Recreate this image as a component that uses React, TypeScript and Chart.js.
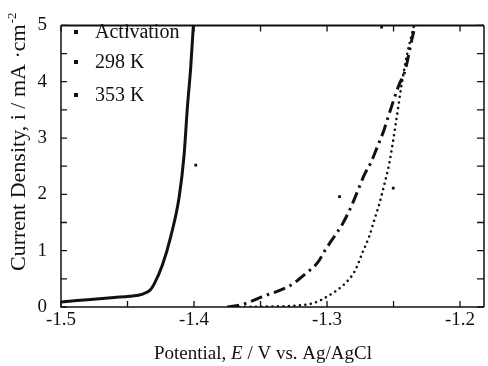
import React, { useEffect, useRef } from "react";
import { Chart, registerables } from "chart.js";
Chart.register(...registerables);

const activationE = [-1.5, -1.48, -1.46, -1.4485, -1.4386, -1.433, -1.4299, -1.4237, -1.4174, -1.4112, -1.4075, -1.405, -1.4025, -1.4005];
const activationI = [0.09, 0.13, 0.17, 0.19, 0.23, 0.3, 0.41, 0.75, 1.26, 1.95, 2.69, 3.54, 4.25, 5.0];

const k298E = [-1.375, -1.363, -1.349, -1.3278, -1.3167, -1.3067, -1.3017, -1.2943, -1.288, -1.2819, -1.278, -1.2719, -1.2669, -1.2624, -1.2575, -1.2537, -1.2463, -1.2413, -1.2363, -1.2338];
const k298I = [0.0, 0.05, 0.18, 0.38, 0.58, 0.8, 1.0, 1.26, 1.49, 1.78, 2.0, 2.35, 2.57, 2.83, 3.12, 3.4, 3.92, 4.2, 4.74, 5.0];

const k353E = [-1.37, -1.34, -1.32, -1.31, -1.3017, -1.2868, -1.2793, -1.2731, -1.2682, -1.2644, -1.2607, -1.257, -1.2532, -1.2483, -1.244, -1.2396, -1.2346];
const k353I = [0.0, 0.01, 0.03, 0.07, 0.16, 0.41, 0.63, 0.98, 1.26, 1.55, 1.83, 2.17, 2.55, 3.26, 3.94, 4.51, 5.0];

const specksE = [-1.3987, -1.259, -1.2906, -1.2502];
const specksI = [2.52, 4.97, 1.96, 2.11];

const seriesLabels = ["Activation", "298 K", "353 K"];
const xLabelValues = [-1.5, -1.4, -1.3, -1.2];
const yLabelValues = [0, 1, 2, 3, 4, 5];
const xMinorTicks = [-1.5, -1.45, -1.4, -1.35, -1.3, -1.25, -1.2];
const yTickValues = [0, 0.5, 1, 1.5, 2, 2.5, 3, 3.5, 4, 4.5, 5];

const SERIF = "'Liberation Serif', 'DejaVu Serif', serif";
const INK = "#111";

const toPts = (xs: number[], ys: number[]) => xs.map((x, i) => ({ x, y: ys[i] }));

const framePlugin = {
  id: "frameTicks",
  afterDatasetsDraw(chart: any) {
    const ctx = chart.ctx;
    const { left, right, top, bottom } = chart.chartArea;
    const xs = chart.scales.x;
    const ys = chart.scales.y;
    ctx.save();
    ctx.strokeStyle = INK;
    // frame
    ctx.lineWidth = 2;
    ctx.beginPath();
    ctx.moveTo(left, top);
    ctx.lineTo(right, top);
    ctx.stroke();
    ctx.lineWidth = 1.5;
    ctx.beginPath();
    ctx.moveTo(left, top);
    ctx.lineTo(left, bottom);
    ctx.lineTo(right, bottom);
    ctx.moveTo(right, top);
    ctx.lineTo(right, bottom);
    ctx.stroke();
    // inward ticks
    ctx.lineWidth = 1.3;
    ctx.beginPath();
    xMinorTicks.forEach((v) => {
      const px = xs.getPixelForValue(v);
      ctx.moveTo(px, bottom);
      ctx.lineTo(px, bottom - 6);
      ctx.moveTo(px, top);
      ctx.lineTo(px, top + 6);
    });
    yTickValues.forEach((v) => {
      const py = ys.getPixelForValue(v);
      ctx.moveTo(left, py);
      ctx.lineTo(left + 6, py);
      ctx.moveTo(right, py);
      ctx.lineTo(right - 7, py);
    });
    ctx.stroke();

    // legend
    ctx.fillStyle = INK;
    ctx.font = `20px ${SERIF}`;
    ctx.textBaseline = "middle";
    ctx.textAlign = "left";
    const rowY = [32, 62, 95];
    seriesLabels.forEach((lab, i) => {
      ctx.fillRect(left + 13, rowY[i] - 2, 4, 4);
      ctx.fillText(lab, left + 34, rowY[i] + 1);
    });

    // x title with italic E
    const parts = [
      { t: "Potential, ", f: `19px ${SERIF}` },
      { t: "E", f: `italic 19px ${SERIF}` },
      { t: " / V vs. Ag/AgCl", f: `19px ${SERIF}` },
    ];
    let total = 0;
    parts.forEach((p) => {
      ctx.font = p.f;
      total += ctx.measureText(p.t).width;
    });
    let cx = 263 - total / 2;
    ctx.textBaseline = "alphabetic";
    parts.forEach((p) => {
      ctx.font = p.f;
      ctx.fillText(p.t, cx, 359);
      cx += ctx.measureText(p.t).width;
    });

    // y title rotated
    ctx.save();
    ctx.translate(25, 271);
    ctx.rotate(-Math.PI / 2);
    ctx.font = `22px ${SERIF}`;
    const main = "Current Density, i / mA \u00B7cm";
    ctx.fillText(main, 0, 0);
    const mw = ctx.measureText(main).width;
    ctx.font = `13px ${SERIF}`;
    ctx.fillText("-2", mw + 1, -9);
    ctx.restore();
    ctx.restore();
  },
};

export default function App() {
  const ref = useRef<HTMLCanvasElement | null>(null);
  useEffect(() => {
    document.body.style.margin = "0";
    const canvas = ref.current;
    if (!canvas) return;
    const chart = new Chart(canvas, {
      type: "scatter",
      data: {
        datasets: [
          {
            label: seriesLabels[0],
            data: toPts(activationE, activationI),
            showLine: true,
            borderColor: INK,
            borderWidth: 3,
            pointRadius: 0,
            cubicInterpolationMode: "monotone",
          },
          {
            label: seriesLabels[1],
            data: toPts(k298E, k298I),
            showLine: true,
            borderColor: INK,
            borderWidth: 3,
            borderDash: [12, 5, 2.5, 5],
            pointRadius: 0,
            cubicInterpolationMode: "monotone",
          },
          {
            label: seriesLabels[2],
            data: toPts(k353E, k353I),
            showLine: true,
            borderColor: INK,
            borderWidth: 2.6,
            borderCapStyle: "round",
            borderDash: [0, 5.5],
            pointRadius: 0,
            cubicInterpolationMode: "monotone",
          },
          {
            label: "specks",
            data: toPts(specksE, specksI),
            showLine: false,
            pointStyle: "rect",
            pointRadius: 2,
            backgroundColor: INK,
            borderColor: INK,
            borderWidth: 0,
          },
        ],
      } as any,
      options: {
        responsive: false,
        animation: false,
        devicePixelRatio: 1,
        layout: { padding: { top: 15, right: 1, left: 0, bottom: 0 } },
        plugins: { legend: { display: false }, tooltip: { enabled: false } },
        scales: {
          x: {
            type: "linear",
            min: -1.5,
            max: -1.182,
            grid: { display: false, drawTicks: false },
            border: { display: false },
            afterBuildTicks: (s: any) => {
              s.ticks = xLabelValues.map((v) => ({ value: v }));
            },
            afterFit: (s: any) => {
              s.height = 59;
            },
            ticks: {
              autoSkip: false,
              maxRotation: 0,
              padding: 2,
              color: INK,
              font: { family: SERIF, size: 19 },
              callback: (v: any) => Number(v).toFixed(1),
            },
          },
          y: {
            type: "linear",
            min: 0,
            max: 5,
            grid: { display: false, drawTicks: false },
            border: { display: false },
            afterBuildTicks: (s: any) => {
              s.ticks = yLabelValues.map((v) => ({ value: v }));
            },
            afterFit: (s: any) => {
              s.width = 61;
            },
            ticks: {
              padding: 14,
              color: INK,
              font: { family: SERIF, size: 19 },
              callback: (v: any) => String(v),
            },
          },
        },
      } as any,
      plugins: [framePlugin],
    });
    return () => chart.destroy();
  }, []);
  return (
    <div style={{ width: 488, height: 366, background: "#fff" }}>
      <canvas ref={ref} width={488} height={366} style={{ display: "block" }} />
    </div>
  );
}
